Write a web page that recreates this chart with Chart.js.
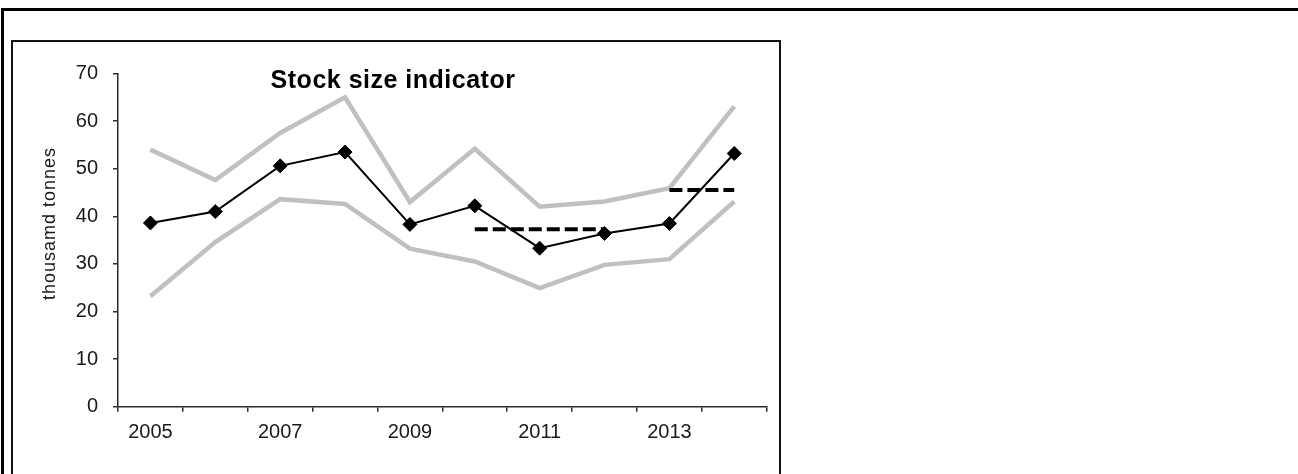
<!DOCTYPE html>
<html>
<head>
<meta charset="utf-8">
<script src="https://cdn.jsdelivr.net/npm/chart.js@4/dist/chart.umd.min.js"></script>
<style>
  html, body { margin: 0; padding: 0; background: #fff; }
  #outer { position: absolute; left: 1px; top: 8px; width: 1297px; height: 480px;
           border-top: 3px solid #000; border-left: 3px solid #000; }
  #inner { position: absolute; left: 11px; top: 40px; width: 766px; height: 460px;
           border: 2px solid #111; }
  #wrap { position: absolute; left: 0; top: 0; width: 1298px; height: 474px; }
</style>
</head>
<body>
<div id="outer"></div>
<div id="inner"></div>
<div id="wrap"><canvas id="stockChart"></canvas></div>
<script>
const years = ['2005', '2006', '2007', '2008', '2009', '2010', '2011', '2012', '2013', '2014'];
const stockIndex = [38.6, 41.0, 50.6, 53.5, 38.3, 42.2, 33.3, 36.4, 38.5, 53.2];
const upperBound = [54.0, 47.6, 57.5, 65.0, 43.0, 54.2, 42.0, 43.1, 45.9, 63.1];
const lowerBound = [23.2, 34.6, 43.6, 42.6, 33.2, 30.5, 24.9, 29.8, 31.0, 43.1];
const refLevelA = [null, null, null, null, null, 37.3, 37.3, 37.3, null, null];
const refLevelB = [null, null, null, null, null, null, null, null, 45.5, 45.5];
const yTicks = [0, 10, 20, 30, 40, 50, 60, 70];

const chartTitle = 'Stock size indicator';
const yTitle = 'thousamd tonnes';

const FONT = '"Liberation Sans", Arial, sans-serif';
const AXIS = '#2a2a2a';

// title and y title drawn with letter spacing, like the original
const textPlugin = {
    id: 'spacedText',
    afterDraw(chart) {
        const ctx = chart.ctx;
        ctx.save();
        ctx.fillStyle = '#000';
        ctx.font = 'bold 25px ' + FONT;
        ctx.letterSpacing = '0.5px';
        ctx.textAlign = 'center';
        ctx.textBaseline = 'alphabetic';
        ctx.fillText(chartTitle, 393, 88);
        ctx.restore();

        ctx.save();
        ctx.fillStyle = '#1a1a1a';
        ctx.font = '18px ' + FONT;
        ctx.letterSpacing = '1px';
        ctx.textAlign = 'center';
        ctx.textBaseline = 'alphabetic';
        ctx.translate(55, 223.5);
        ctx.rotate(-Math.PI / 2);
        ctx.fillText(yTitle, 0, 0);
        ctx.restore();
    }
};

new Chart(document.getElementById('stockChart'), {
    type: 'line',
    data: {
        labels: years,
        datasets: [
            {
                label: 'Stock size',
                data: stockIndex,
                borderColor: '#000',
                borderWidth: 2,
                pointStyle: 'rectRot',
                pointRadius: 7,
                pointBorderWidth: 1,
                pointBackgroundColor: '#000',
                pointBorderColor: '#000',
                tension: 0,
                order: 1
            },
            {
                label: 'Mean 2010-2012',
                data: refLevelA,
                borderColor: '#000',
                borderWidth: 4,
                borderDash: [13, 5],
                pointRadius: 0,
                spanGaps: false,
                order: 2
            },
            {
                label: 'Mean 2013-2014',
                data: refLevelB,
                borderColor: '#000',
                borderWidth: 4,
                borderDash: [13, 5],
                pointRadius: 0,
                spanGaps: false,
                order: 2
            },
            {
                label: 'Upper',
                data: upperBound,
                borderColor: '#c0c0c0',
                borderWidth: 4.5,
                pointRadius: 0,
                tension: 0,
                order: 3
            },
            {
                label: 'Lower',
                data: lowerBound,
                borderColor: '#c0c0c0',
                borderWidth: 4.5,
                pointRadius: 0,
                tension: 0,
                order: 3
            }
        ]
    },
    options: {
        responsive: true,
        maintainAspectRatio: false,
        animation: false,
        layout: { padding: { left: 0, top: 73.5, right: 531.3, bottom: 0 } },
        plugins: {
            legend: { display: false },
            tooltip: { enabled: false },
            title: { display: false }
        },
        scales: {
            x: {
                type: 'category',
                offset: true,
                afterFit: (scale) => { scale.height = 67.3; },
                grid: {
                    offset: true,
                    drawOnChartArea: false,
                    drawTicks: true,
                    tickLength: 5,
                    color: AXIS,
                    lineWidth: 1.5
                },
                border: { display: true, color: AXIS, width: 1.5 },
                ticks: {
                    autoSkip: false,
                    maxRotation: 0,
                    padding: 9,
                    color: '#1a1a1a',
                    font: { family: FONT, size: 20 },
                    callback: function (value, index) {
                        return index % 2 === 0 ? this.getLabelForValue(value) : '';
                    }
                }
            },
            y: {
                min: 0,
                max: 70,
                afterFit: (scale) => { scale.width = 118; },
                afterBuildTicks: (scale) => { scale.ticks = yTicks.map(v => ({ value: v })); },
                grid: {
                    drawOnChartArea: false,
                    drawTicks: true,
                    tickLength: 5,
                    color: AXIS,
                    lineWidth: 1.5
                },
                border: { display: true, color: AXIS, width: 1.5 },
                ticks: {
                    padding: 15,
                    color: '#1a1a1a',
                    font: { family: FONT, size: 20 }
                }
            }
        }
    },
    plugins: [textPlugin]
});
</script>
</body>
</html>
